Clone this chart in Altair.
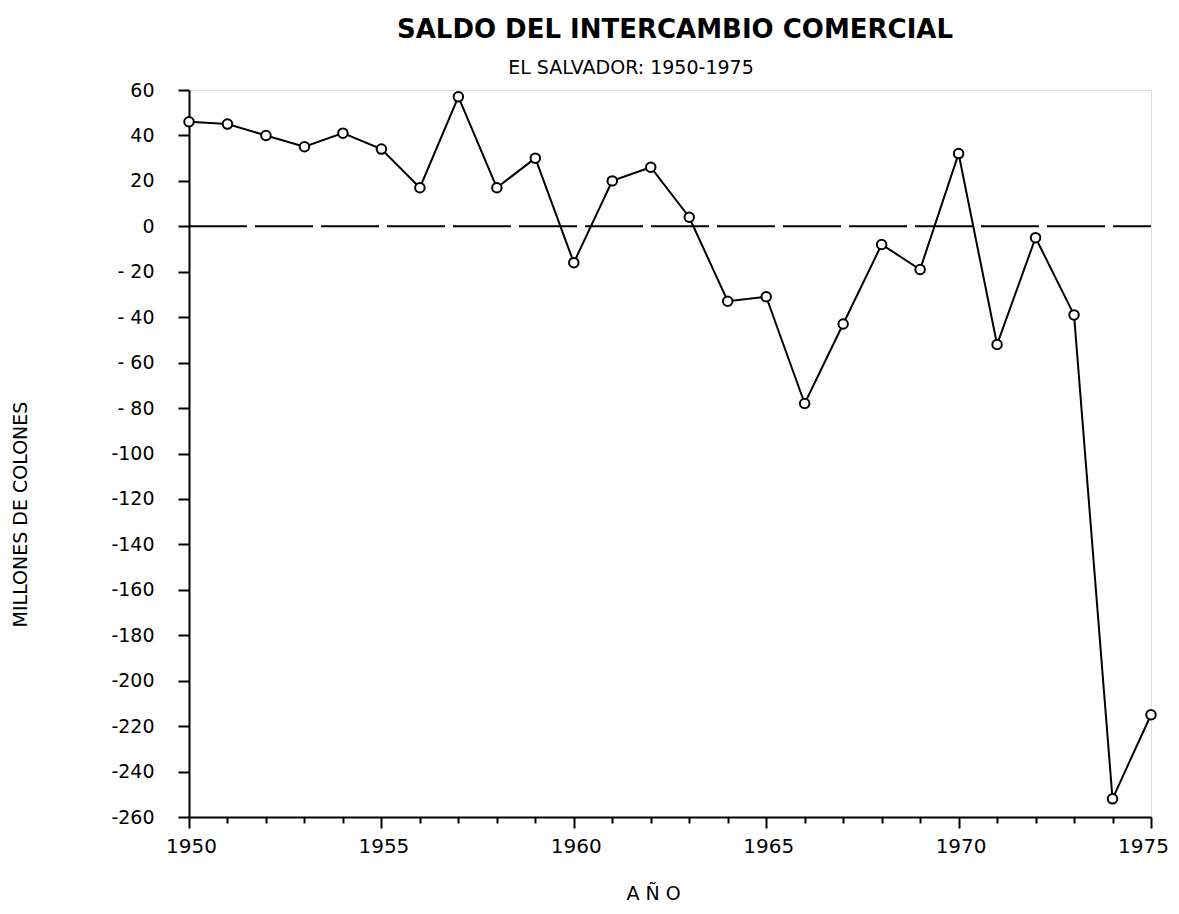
import altair as alt
import pandas as pd

years = list(range(1950, 1976))
saldo = [46, 45, 40, 35, 41, 34, 17, 57, 17, 30,
         -16, 20, 26, 4, -33, -31, -78, -43, -8, -19,
         32, -52, -5, -39, -252, -215]

y_ticks = list(range(-260, 61, 20))
x_ticks = years

title_text = "SALDO DEL INTERCAMBIO COMERCIAL"
subtitle_text = "EL SALVADOR: 1950-1975"
y_title = "MILLONES DE COLONES"
x_title = "A Ñ O"

FONT = "DejaVu Sans"

df = pd.DataFrame({"year": years, "saldo": saldo})
zero_df = pd.DataFrame({"x": [years[0]], "x2": [years[-1]], "y": [0]})
head_df = pd.DataFrame({"t": [title_text]})
sub_df = pd.DataFrame({"t": [subtitle_text]})

x_scale = alt.Scale(domain=[1950, 1975], nice=False, zero=False)
y_scale = alt.Scale(domain=[-260, 60], nice=False, zero=False)

x_axis = alt.Axis(
    values=x_ticks,
    tickCount=len(x_ticks) + 4,
    labelExpr="datum.value % 5 == 0 ? '' + datum.value : ''",
    labelOverlap=False,
    labelOffset={"condition": {"test": "datum.value == 1975", "value": -8}, "value": 2},
    tickSize={"condition": {"test": "datum.value % 5 == 0", "value": 11}, "value": 6},
    tickWidth=2,
    tickColor="black",
    domainColor="black",
    domainWidth=2,
    labelFont=FONT,
    labelFontSize=20,
    labelColor="black",
    labelPadding=8,
    labelFlush=False,
    grid=False,
    title=x_title,
    titleFont=FONT,
    titleFontSize=19,
    titleFontWeight="normal",
    titleColor="black",
    titleX=464,
    titleY=76,
    titleBaseline="middle",
    titleAlign="center",
)

y_axis = alt.Axis(
    values=y_ticks,
    tickCount=len(y_ticks) + 4,
    labelExpr="datum.value < 0 ? (datum.value <= -100 ? '-' + abs(datum.value) : '- ' + abs(datum.value)) : '' + datum.value",
    labelOverlap=False,
    tickSize=11,
    tickWidth=2,
    tickColor="black",
    domainColor="black",
    domainWidth=2,
    labelFont=FONT,
    labelFontSize=19,
    labelColor="black",
    labelPadding=24,
    labelFlush=False,
    grid=False,
    title=y_title,
    titleFont=FONT,
    titleFontSize=19,
    titleFontWeight="normal",
    titleColor="black",
    titleAngle=270,
    titleX=-169,
    titleY=424,
    titleBaseline="middle",
    titleAlign="center",
)

base = alt.Chart(df).encode(
    x=alt.X("year:Q", scale=x_scale, axis=x_axis),
    y=alt.Y("saldo:Q", scale=y_scale, axis=y_axis),
)

line = base.mark_line(color="black", strokeWidth=2)
points = base.mark_point(shape="circle", filled=True, fill="white",
                         stroke="black", strokeWidth=2, size=90, opacity=1)

zero_line = alt.Chart(zero_df).mark_rule(
    color="black", strokeWidth=2, strokeDash=[58, 8]
).encode(
    x=alt.X("x:Q", scale=x_scale),
    x2="x2:Q",
    y=alt.Y("y:Q", scale=y_scale),
)

heading = alt.Chart(head_df).mark_text(
    font=FONT, fontSize=26, fontWeight="bold", color="black",
    align="center", baseline="alphabetic"
).encode(
    x=alt.value(486),
    y=alt.value(-52),
    text="t:N",
)

subtitle = alt.Chart(sub_df).mark_text(
    font=FONT, fontSize=19, color="black", align="center", baseline="alphabetic"
).encode(
    x=alt.value(442),
    y=alt.value(-16),
    text="t:N",
)

chart = alt.layer(zero_line, line, points, heading, subtitle).properties(
    width=962,
    height=727,
    padding={"left": 181, "top": 82, "right": 20, "bottom": 90},
    autosize=alt.AutoSizeParams(type="none"),
).configure_view(stroke=None).configure(background="white")

chart.save("out.html", embed_options={"renderer": "svg", "actions": False})
